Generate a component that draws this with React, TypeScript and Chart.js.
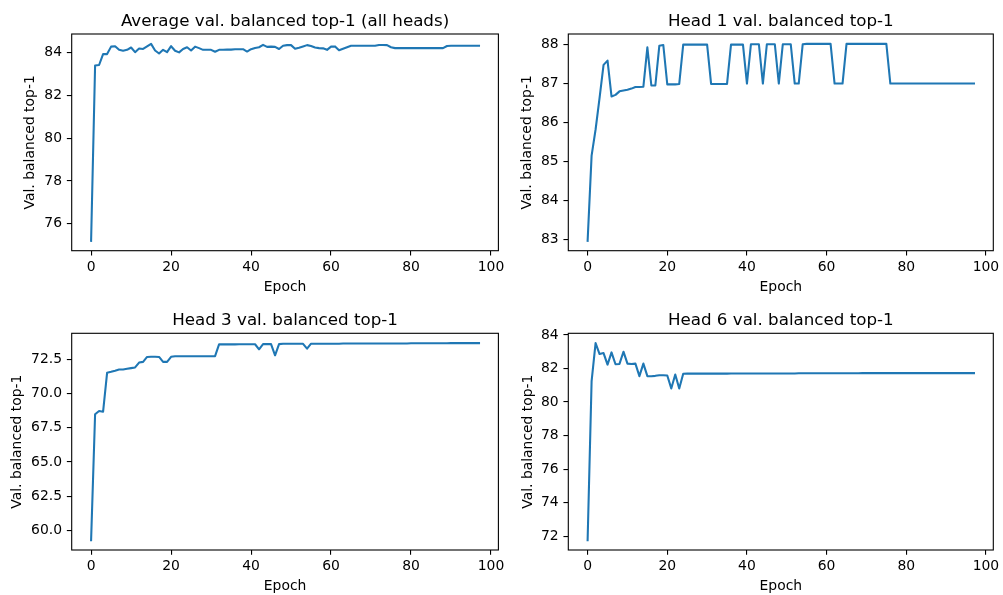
import React, { useEffect, useRef } from "react";
import { Chart, registerables } from "chart.js";

Chart.register(...registerables);

const FONT = "DejaVu Sans";
const LINE_COLOR = "#1f77b4";

const epochs: number[] = Array.from({ length: 98 }, (_, i) => i);

const avgTop1: number[] = [
  75.2, 83.41, 83.43, 83.94, 83.94, 84.29, 84.31, 84.14, 84.1, 84.14,
  84.25, 84.03, 84.2, 84.18, 84.3, 84.42, 84.11, 83.97, 84.14, 84.03,
  84.31, 84.1, 84.02, 84.18, 84.26, 84.11, 84.29, 84.22, 84.14, 84.14,
  84.14, 84.05, 84.14, 84.14, 84.15, 84.15, 84.17, 84.17, 84.17, 84.06,
  84.17, 84.23, 84.26, 84.37, 84.28, 84.29, 84.28, 84.18, 84.33, 84.36,
  84.36, 84.19, 84.24, 84.3, 84.36, 84.32, 84.25, 84.22, 84.21, 84.14,
  84.29, 84.3, 84.12, 84.19, 84.26, 84.33, 84.33, 84.33, 84.33, 84.33,
  84.33, 84.33, 84.37, 84.37, 84.36, 84.26, 84.22, 84.22, 84.22, 84.22,
  84.22, 84.22, 84.22, 84.22, 84.22, 84.22, 84.22, 84.22, 84.22, 84.32,
  84.33, 84.33, 84.33, 84.33, 84.33, 84.33, 84.33, 84.33,
];

const head1Top1: number[] = [
  82.96, 85.15, 85.82, 86.63, 87.48, 87.59, 86.67, 86.71, 86.8, 86.82,
  86.84, 86.87, 86.91, 86.91, 86.92, 87.93, 86.95, 86.95, 87.97, 87.99,
  86.98, 86.98, 86.98, 86.99, 88.0, 88.0, 88.0, 88.0, 88.0, 88.0,
  88.0, 86.99, 86.99, 86.99, 86.99, 86.99, 88.0, 88.0, 88.0, 88.0,
  87.0, 88.01, 88.01, 88.01, 87.0, 88.01, 88.01, 88.01, 87.0, 88.01,
  88.01, 88.01, 87.0, 87.0, 88.01, 88.02, 88.02, 88.02, 88.02, 88.02,
  88.02, 88.02, 87.0, 87.0, 87.0, 88.02, 88.02, 88.02, 88.02, 88.02,
  88.02, 88.02, 88.02, 88.02, 88.02, 88.02, 87.0, 87.0, 87.0, 87.0,
  87.0, 87.0, 87.0, 87.0, 87.0, 87.0, 87.0, 87.0, 87.0, 87.0,
  87.0, 87.0, 87.0, 87.0, 87.0, 87.0, 87.0, 87.0,
];

const head3Top1: number[] = [
  59.27, 68.49, 68.73, 68.68, 71.53, 71.6, 71.68, 71.77, 71.77, 71.82,
  71.87, 71.92, 72.28, 72.33, 72.69, 72.7, 72.7, 72.69, 72.33, 72.33,
  72.7, 72.74, 72.74, 72.74, 72.74, 72.74, 72.74, 72.74, 72.74, 72.74,
  72.74, 72.75, 73.61, 73.61, 73.61, 73.61, 73.61, 73.62, 73.62, 73.62,
  73.62, 73.62, 73.25, 73.63, 73.64, 73.63, 72.81, 73.63, 73.65, 73.65,
  73.65, 73.65, 73.65, 73.65, 73.3, 73.66, 73.66, 73.66, 73.66, 73.66,
  73.66, 73.66, 73.66, 73.67, 73.67, 73.67, 73.67, 73.67, 73.67, 73.67,
  73.67, 73.68, 73.68, 73.68, 73.68, 73.68, 73.68, 73.68, 73.68, 73.68,
  73.69, 73.69, 73.69, 73.69, 73.69, 73.69, 73.69, 73.69, 73.69, 73.69,
  73.7, 73.7, 73.7, 73.7, 73.7, 73.7, 73.7, 73.7,
];

const head6Top1: number[] = [
  71.76, 81.24, 83.51, 82.86, 82.92, 82.23, 82.96, 82.25, 82.27, 83.0,
  82.29, 82.27, 82.29, 81.54, 82.29, 81.54, 81.54, 81.56, 81.6, 81.6,
  81.58, 80.81, 81.64, 80.81, 81.68, 81.69, 81.69, 81.69, 81.69, 81.69,
  81.69, 81.69, 81.69, 81.69, 81.69, 81.69, 81.7, 81.7, 81.7, 81.7,
  81.7, 81.7, 81.7, 81.7, 81.7, 81.7, 81.7, 81.7, 81.7, 81.7,
  81.7, 81.7, 81.7, 81.71, 81.71, 81.71, 81.71, 81.71, 81.71, 81.71,
  81.71, 81.71, 81.71, 81.71, 81.71, 81.71, 81.71, 81.71, 81.71, 81.72,
  81.72, 81.72, 81.72, 81.72, 81.72, 81.72, 81.72, 81.72, 81.72, 81.72,
  81.72, 81.72, 81.72, 81.72, 81.72, 81.72, 81.72, 81.72, 81.72, 81.72,
  81.72, 81.72, 81.72, 81.72, 81.72, 81.72, 81.72, 81.72,
];

const xTicks: number[] = [0, 20, 40, 60, 80, 100];
const avgYTicks: number[] = [76, 78, 80, 82, 84];
const head1YTicks: number[] = [83, 84, 85, 86, 87, 88];
const head3YTicks: number[] = [60, 62.5, 65, 67.5, 70, 72.5];
const head6YTicks: number[] = [72, 74, 76, 78, 80, 82, 84];

const titles: string[] = [
  "Average val. balanced top-1 (all heads)",
  "Head 1 val. balanced top-1",
  "Head 3 val. balanced top-1",
  "Head 6 val. balanced top-1",
];
const xLabel = "Epoch";
const yLabel = "Val. balanced top-1";

type Box = { left: number; top: number; width: number; height: number };
type Area = { left: number; top: number; right: number; bottom: number };
type PanelCfg = {
  title: string;
  values: number[];
  yTicks: number[];
  decimals: number;
  canvas: Box;
  area: Area;
  titleMid: number;
  yLabelX: number;
  xLabelY: number;
};

const panels: PanelCfg[] = [
  {
    title: titles[0], values: avgTop1, yTicks: avgYTicks, decimals: 0,
    canvas: { left: 0, top: 0, width: 512, height: 300 },
    area: { left: 71.7, top: 34, right: 498.4, bottom: 250.7 },
    titleMid: 21.4, yLabelX: 30, xLabelY: 287,
  },
  {
    title: titles[1], values: head1Top1, yTicks: head1YTicks, decimals: 0,
    canvas: { left: 502, top: 0, width: 501, height: 300 },
    area: { left: 568.3, top: 34, right: 993.3, bottom: 250.7 },
    titleMid: 21.4, yLabelX: 527, xLabelY: 287,
  },
  {
    title: titles[2], values: head3Top1, yTicks: head3YTicks, decimals: 1,
    canvas: { left: 0, top: 300, width: 512, height: 295 },
    area: { left: 71.7, top: 333.3, right: 498.4, bottom: 550 },
    titleMid: 320.7, yLabelX: 17, xLabelY: 586.3,
  },
  {
    title: titles[3], values: head6Top1, yTicks: head6YTicks, decimals: 0,
    canvas: { left: 502, top: 300, width: 501, height: 295 },
    area: { left: 568.3, top: 333.3, right: 993.3, bottom: 550 },
    titleMid: 320.7, yLabelX: 528, xLabelY: 586.3,
  },
];

const framePlugin = {
  id: "frame",
  afterDatasetsDraw(chart: any) {
    const { ctx, chartArea: a } = chart;
    ctx.save();
    ctx.strokeStyle = "#000";
    ctx.lineWidth = 1.1;
    ctx.strokeRect(a.left, a.top, a.right - a.left, a.bottom - a.top);
    ctx.restore();
  },
};

function Panel({ cfg }: { cfg: PanelCfg }) {
  const ref = useRef<HTMLCanvasElement | null>(null);
  useEffect(() => {
    if (!ref.current) return;
    const W = cfg.canvas.width;
    const H = cfg.canvas.height;
    const aL = cfg.area.left - cfg.canvas.left;
    const aT = cfg.area.top - cfg.canvas.top;
    const aR = cfg.area.right - cfg.canvas.left;
    const aB = cfg.area.bottom - cfg.canvas.top;
    const titleSize = 16.7;
    const tickSize = 13.9;
    const titleLH = titleSize * 1.2;
    const titlePadTop = cfg.titleMid - cfg.canvas.top - titleLH / 2;
    const titlePadBottom = aT - titlePadTop - titleLH;
    const xLabelPadBottom = H - (cfg.xLabelY - cfg.canvas.top) - tickSize / 2;
    const yLabelPadTop = cfg.yLabelX - cfg.canvas.left - tickSize / 2;

    const vmin = Math.min(...cfg.values);
    const vmax = Math.max(...cfg.values);
    const vr = vmax - vmin;
    const emin = Math.min(...epochs);
    const emax = Math.max(...epochs);
    const er = emax - emin;

    const tickFont = { family: FONT, size: tickSize, lineHeight: 1 };
    const grid = {
      display: true,
      drawOnChartArea: false,
      drawTicks: true,
      tickLength: 4.86,
      color: "#000",
      lineWidth: 1.1,
    };

    const chart = new Chart(ref.current, {
      type: "line",
      data: {
        datasets: [
          {
            data: cfg.values.map((v, i) => ({ x: epochs[i], y: v })),
            borderColor: LINE_COLOR,
            backgroundColor: LINE_COLOR,
            borderWidth: 2.08,
            borderJoinStyle: "round",
            borderCapStyle: "square",
            pointRadius: 0,
            tension: 0,
            fill: false,
          },
        ],
      },
      options: {
        animation: false,
        responsive: false,
        devicePixelRatio: 1,
        events: [],
        layout: {
          autoPadding: false,
          padding: { left: 0, top: 0, right: W - aR, bottom: 0 },
        },
        plugins: {
          legend: { display: false },
          tooltip: { enabled: false },
          title: {
            display: true,
            fullSize: false,
            text: cfg.title,
            color: "#000",
            font: { family: FONT, size: titleSize, weight: "normal", lineHeight: 1.2 },
            padding: { top: titlePadTop, bottom: titlePadBottom },
          },
        },
        scales: {
          x: {
            type: "linear",
            min: emin - er * 0.05,
            max: emax + er * 0.05,
            afterBuildTicks: (s: any) => {
              s.ticks = xTicks.map((v) => ({ value: v }));
            },
            afterFit: (s: any) => {
              s.height = H - aB;
              s.paddingLeft = 0;
              s.paddingRight = 0;
            },
            border: { display: false },
            grid,
            ticks: {
              color: "#000",
              font: tickFont,
              padding: 4.86,
              maxRotation: 0,
              autoSkip: false,
              callback: (v: any) => String(v),
            },
            title: {
              display: true,
              text: xLabel,
              color: "#000",
              font: { family: FONT, size: tickSize, lineHeight: 1 },
              padding: { top: 0, bottom: xLabelPadBottom },
            },
          },
          y: {
            type: "linear",
            min: vmin - vr * 0.05,
            max: vmax + vr * 0.05,
            afterBuildTicks: (s: any) => {
              s.ticks = cfg.yTicks.map((v) => ({ value: v }));
            },
            afterFit: (s: any) => {
              s.width = aL;
              s.paddingTop = 0;
              s.paddingBottom = 0;
            },
            border: { display: false },
            grid,
            ticks: {
              color: "#000",
              font: tickFont,
              padding: 4.86,
              autoSkip: false,
              callback: (v: any) => Number(v).toFixed(cfg.decimals),
            },
            title: {
              display: true,
              text: yLabel,
              color: "#000",
              font: { family: FONT, size: tickSize, lineHeight: 1 },
              padding: { top: yLabelPadTop, bottom: 0 },
            },
          },
        },
      } as any,
      plugins: [framePlugin],
    });
    return () => chart.destroy();
  }, [cfg]);

  return (
    <canvas
      ref={ref}
      width={cfg.canvas.width}
      height={cfg.canvas.height}
      style={{
        position: "absolute",
        left: cfg.canvas.left,
        top: cfg.canvas.top,
        width: cfg.canvas.width,
        height: cfg.canvas.height,
      }}
    />
  );
}

export default function App() {
  return (
    <div
      style={{
        position: "absolute",
        left: 0,
        top: 0,
        width: 1003,
        height: 595,
        background: "#fff",
        overflow: "hidden",
      }}
    >
      {panels.map((p, i) => (
        <Panel key={i} cfg={p} />
      ))}
    </div>
  );
}
